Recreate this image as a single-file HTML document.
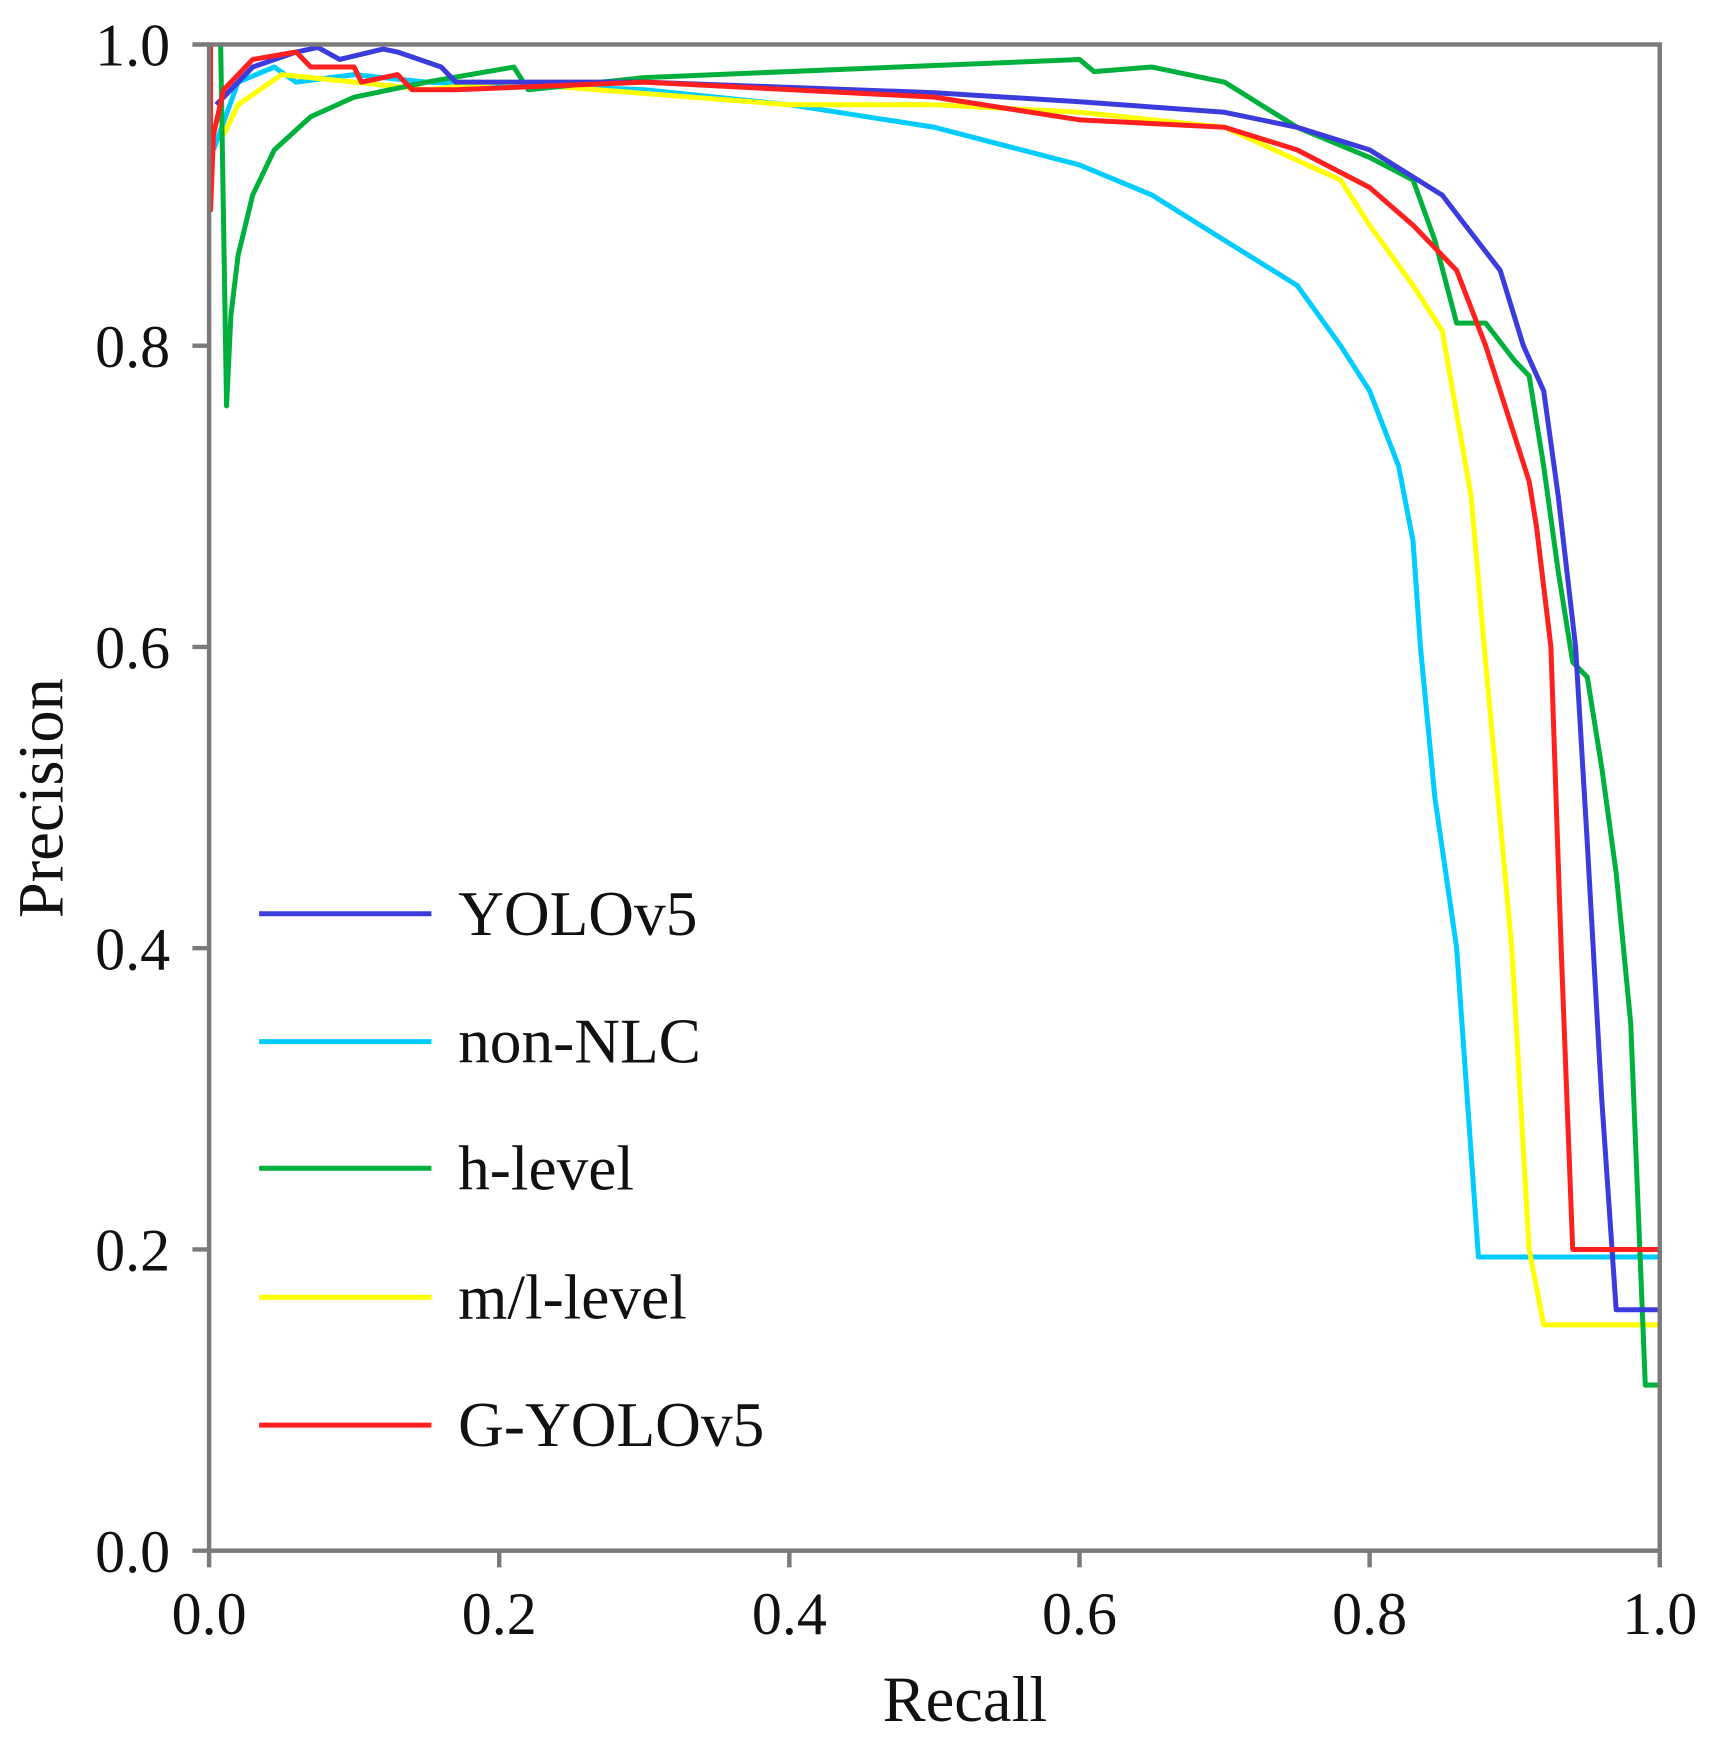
<!DOCTYPE html>
<html><head><meta charset="utf-8"><style>
html,body{margin:0;padding:0;background:#fff;}
svg{display:block;}
text{font-family:"Liberation Serif",serif;fill:#111;}
</style></head><body>
<svg id="s" width="1721" height="1743" viewBox="0 0 1548 1568" xmlns="http://www.w3.org/2000/svg">
<rect x="0" y="0" width="1548" height="1568" fill="#fff"/>
<g id="curves" fill="none" stroke-width="4.5" stroke-linejoin="round"></g>
<rect x="188" y="40" width="1305" height="1355" fill="none" stroke="#7a7a7a" stroke-width="4"/>
<g stroke="#7a7a7a" stroke-width="4">
<line x1="188" y1="1395" x2="188" y2="1410"/><line x1="449" y1="1395" x2="449" y2="1410"/><line x1="710" y1="1395" x2="710" y2="1410"/><line x1="971" y1="1395" x2="971" y2="1410"/><line x1="1232" y1="1395" x2="1232" y2="1410"/><line x1="1493" y1="1395" x2="1493" y2="1410"/>
<line x1="173" y1="1395" x2="188" y2="1395"/><line x1="173" y1="1124" x2="188" y2="1124"/><line x1="173" y1="853" x2="188" y2="853"/><line x1="173" y1="582" x2="188" y2="582"/><line x1="173" y1="311" x2="188" y2="311"/><line x1="173" y1="40" x2="188" y2="40"/>
</g>
<g font-size="54" text-anchor="middle">
<text x="188" y="1470">0.0</text><text x="449" y="1470">0.2</text><text x="710" y="1470">0.4</text><text x="971" y="1470">0.6</text><text x="1232" y="1470">0.8</text><text x="1493" y="1470">1.0</text>
</g>
<g font-size="54" text-anchor="end">
<text x="153" y="1414">0.0</text><text x="153" y="1143">0.2</text><text x="153" y="872">0.4</text><text x="153" y="601">0.6</text><text x="153" y="330">0.8</text><text x="153" y="59">1.0</text>
</g>
<text x="868" y="1548" font-size="58" text-anchor="middle">Recall</text>
<text transform="translate(56,718) rotate(-90)" font-size="58" text-anchor="middle">Precision</text>
<g stroke-width="4.5">
<line x1="233" y1="822" x2="388" y2="822" stroke="#3c3cdc"/>
<line x1="233" y1="937" x2="388" y2="937" stroke="#00ccff"/>
<line x1="233" y1="1051" x2="388" y2="1051" stroke="#00b03c"/>
<line x1="233" y1="1167" x2="388" y2="1167" stroke="#ffff00"/>
<line x1="233" y1="1282" x2="388" y2="1282" stroke="#ff2020"/>
</g>
<g font-size="57">
<text x="412" y="841">YOLOv5</text>
<text x="412" y="956">non-NLC</text>
<text x="412" y="1070">h-level</text>
<text x="412" y="1186">m/l-level</text>
<text x="412" y="1301">G-YOLOv5</text>
</g>
</svg>
<script>
var X=function(r){return 188+1305*r},Y=function(p){return 1395-1355*p};
var S={
"#00ccff":[[0.003,0.93],[0.02,0.975],[0.045,0.985],[0.06,0.975],[0.1,0.98],[0.15,0.975],[0.3,0.97],[0.4,0.96],[0.5,0.945],[0.6,0.92],[0.65,0.9],[0.7,0.87],[0.75,0.84],[0.78,0.8],[0.8,0.77],[0.82,0.72],[0.83,0.67],[0.835,0.6],[0.845,0.5],[0.86,0.4],[0.875,0.195],[1.0,0.195]],
"#ffff00":[[0.01,0.94],[0.02,0.96],[0.05,0.98],[0.1,0.975],[0.15,0.97],[0.2,0.975],[0.4,0.96],[0.5,0.96],[0.6,0.955],[0.7,0.945],[0.78,0.91],[0.8,0.88],[0.83,0.84],[0.85,0.81],[0.87,0.7],[0.879,0.6],[0.898,0.4],[0.91,0.2],[0.92,0.15],[1.0,0.15]],
"#00b03c":[[0.008,1.0],[0.012,0.76],[0.015,0.82],[0.02,0.86],[0.03,0.9],[0.045,0.93],[0.07,0.952],[0.1,0.965],[0.15,0.975],[0.21,0.985],[0.22,0.97],[0.3,0.978],[0.6,0.99],[0.61,0.982],[0.65,0.985],[0.7,0.975],[0.75,0.945],[0.8,0.925],[0.83,0.91],[0.845,0.87],[0.86,0.815],[0.88,0.815],[0.9,0.79],[0.91,0.78],[0.92,0.72],[0.93,0.65],[0.94,0.59],[0.95,0.58],[0.96,0.52],[0.97,0.45],[0.975,0.4],[0.98,0.35],[0.99,0.11],[1.0,0.11]],
"#3c3cdc":[[0.005,0.96],[0.03,0.985],[0.06,0.995],[0.075,0.998],[0.09,0.99],[0.12,0.997],[0.13,0.995],[0.16,0.985],[0.17,0.975],[0.3,0.975],[0.5,0.968],[0.6,0.962],[0.7,0.955],[0.75,0.945],[0.8,0.93],[0.83,0.912],[0.85,0.9],[0.87,0.875],[0.89,0.85],[0.906,0.8],[0.92,0.77],[0.93,0.7],[0.942,0.6],[0.95,0.47],[0.96,0.3],[0.97,0.16],[1.0,0.16]],
"#ff2020":[[0.001,1.0],[0.001,0.89],[0.003,0.94],[0.01,0.97],[0.03,0.99],[0.06,0.995],[0.07,0.985],[0.1,0.985],[0.105,0.975],[0.13,0.98],[0.14,0.97],[0.17,0.97],[0.3,0.975],[0.5,0.965],[0.6,0.95],[0.7,0.945],[0.75,0.93],[0.8,0.905],[0.83,0.88],[0.86,0.85],[0.88,0.8],[0.9,0.74],[0.91,0.71],[0.915,0.68],[0.925,0.6],[0.932,0.4],[0.94,0.2],[1.0,0.2]]
};
var g=document.getElementById("curves"),h="";
for(var c in S){h+='<polyline stroke="'+c+'" points="'+S[c].map(function(p){return X(p[0]).toFixed(1)+","+Y(p[1]).toFixed(1)}).join(" ")+'"/>';}
g.innerHTML=h;
</script>
</body></html>
